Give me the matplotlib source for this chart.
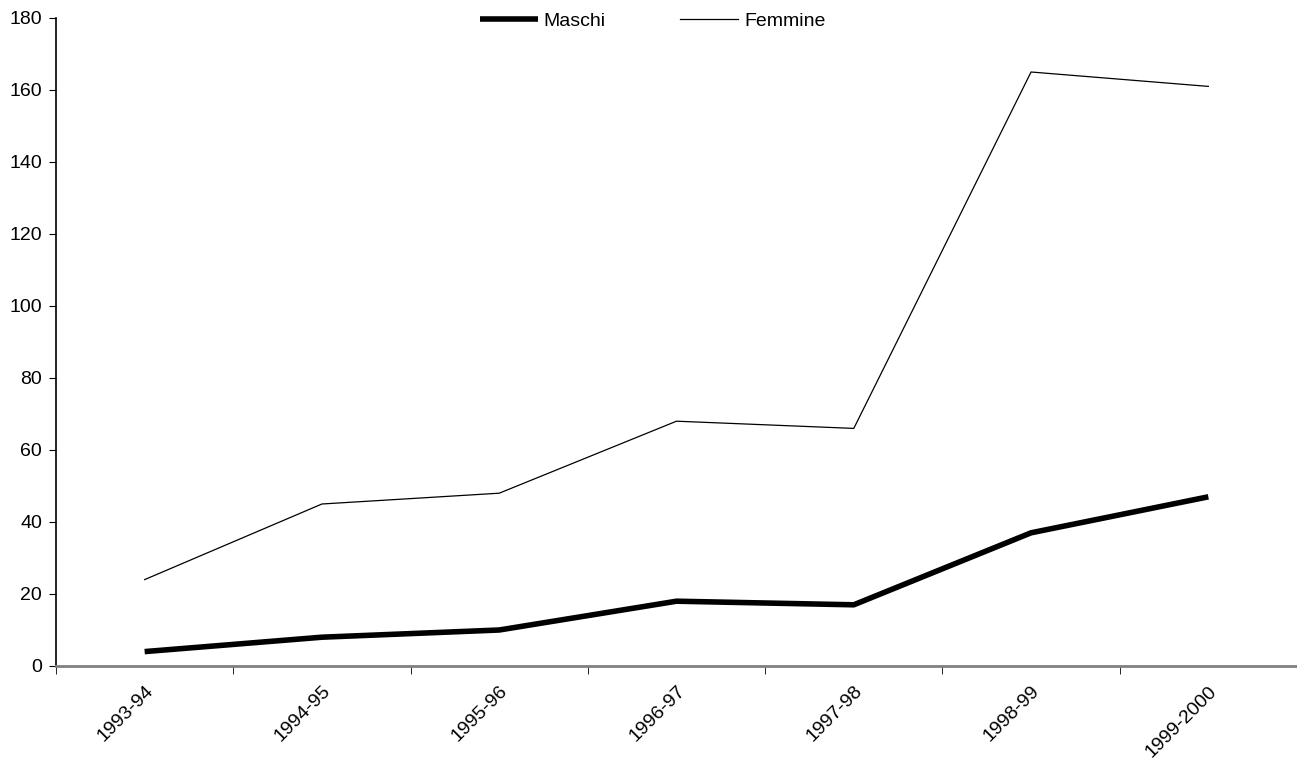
import matplotlib.pyplot as plt
from matplotlib.ticker import FixedLocator

plt.rcParams['font.family'] = ['Liberation Sans', 'DejaVu Sans']

# Data
anni = ['1993-94', '1994-95', '1995-96', '1996-97', '1997-98', '1998-99', '1999-2000']
maschi = [4, 8, 10, 18, 17, 37, 47]
femmine = [24, 45, 48, 68, 66, 165, 161]

fig = plt.figure(figsize=(12.97, 7.62), dpi=100)
ax = fig.add_axes([56 / 1297, 1 - 666 / 762, 1 - 56 / 1297, 648 / 762])

x = list(range(len(anni)))
ax.plot(x, maschi, color='black', linewidth=4, label='Maschi', solid_capstyle='butt')
ax.plot(x, femmine, color='black', linewidth=0.9, label='Femmine')

ax.set_xlim(-0.5, len(anni) - 0.5)
ax.set_ylim(0, 180)
ax.set_yticks(range(0, 181, 20))

# labels at category centres, tick marks at category boundaries
ax.set_xticks(x)
ax.set_xticklabels(anni, rotation=45, ha='right', rotation_mode='anchor')
ax.tick_params(axis='x', which='major', length=0, pad=12, labelsize=14)
ax.xaxis.set_minor_locator(FixedLocator([i - 0.5 for i in range(len(anni) + 1)]))
ax.tick_params(axis='x', which='minor', length=6, direction='out', color='black')
ax.tick_params(axis='y', length=5, direction='out', labelsize=14, pad=5)

ax.spines['top'].set_visible(False)
ax.spines['right'].set_visible(False)
ax.spines['bottom'].set_color('#808080')
ax.spines['bottom'].set_linewidth(2)
ax.spines['left'].set_linewidth(1.2)

fig.legend(*ax.get_legend_handles_labels(), loc='upper center', bbox_to_anchor=(0.503, 1.007),
           ncol=2, frameon=False, fontsize=14, handlelength=3.0, handletextpad=0.3,
           columnspacing=3.8)

fig.savefig('out.png', dpi=100)
